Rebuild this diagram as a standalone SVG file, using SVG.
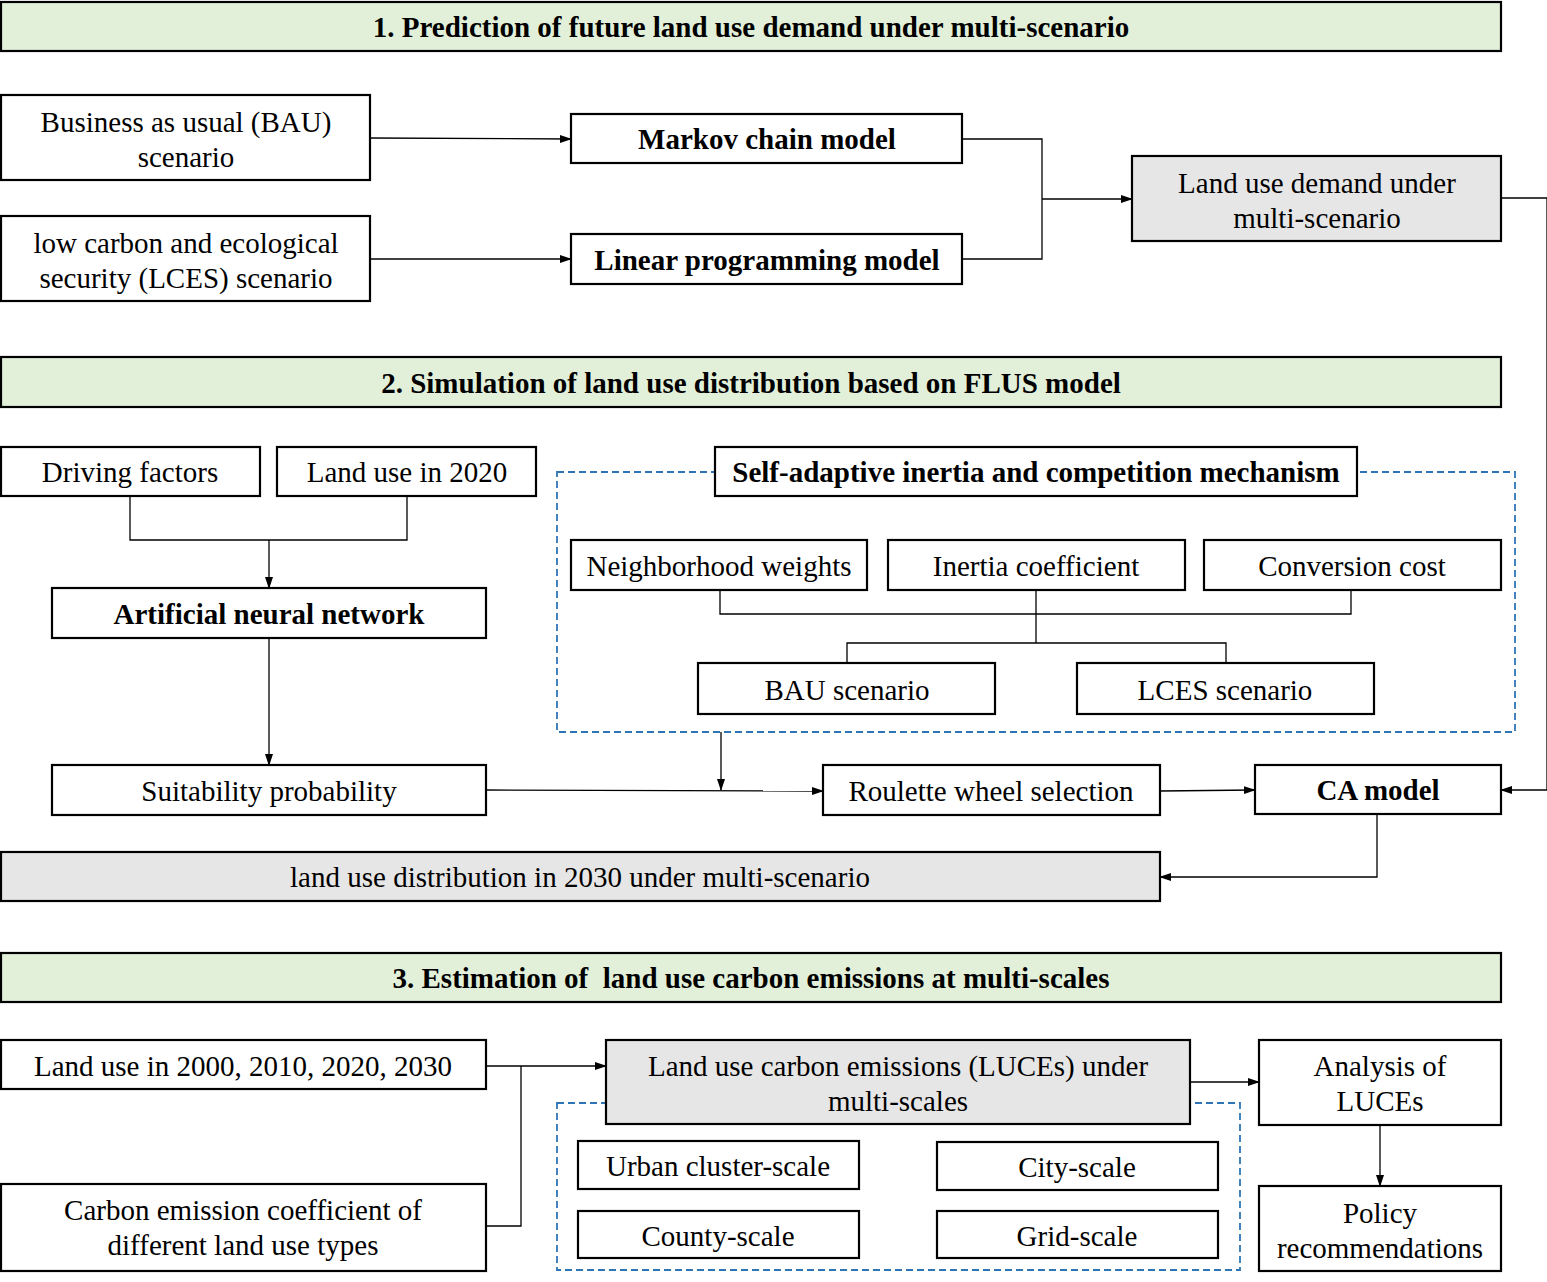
<svg xmlns="http://www.w3.org/2000/svg" width="1547" height="1282" viewBox="0 0 1547 1282">
<defs>
<marker id="arr" markerWidth="12" markerHeight="10" refX="11" refY="5" orient="auto" markerUnits="userSpaceOnUse">
<path d="M0,1 L12,5 L0,9 Z" fill="#000"/>
</marker>
<style>
.hdr{fill:#e2f0d9;stroke:#000;stroke-width:2.2}
.box{fill:#fff;stroke:#000;stroke-width:2.2}
.gray{fill:#e7e6e6;stroke:#000;stroke-width:2.2}
.dash{fill:none;stroke:#2e75b6;stroke-width:1.8;stroke-dasharray:7,4}
.t{font-family:'Liberation Serif','Times New Roman',serif;font-size:29px;fill:#000;text-anchor:middle}
.b{font-weight:bold}
.ln{fill:none;stroke:#000;stroke-width:1.3}
.la{fill:none;stroke:#000;stroke-width:1.3;marker-end:url(#arr)}
</style>
</defs>
<rect width="1547" height="1282" fill="#fff"/>

<!-- dashed groupings -->
<rect class="dash" x="557" y="472" width="958" height="260"/>
<rect class="dash" x="557" y="1103" width="683" height="167"/>

<!-- connectors -->
<g id="connectors">
<line class="la" x1="370" y1="138" x2="571" y2="139"/>
<line class="la" x1="370" y1="259" x2="571" y2="259"/>
<polyline class="ln" points="962,139 1042,139 1042,259 962,259"/>
<line class="la" x1="1042" y1="199" x2="1132" y2="199"/>
<polyline class="la" points="1501,198 1547,198 1547,790 1501,790"/>
<polyline class="ln" points="130,496 130,540 407,540 407,496"/>
<line class="la" x1="269" y1="540" x2="269" y2="588"/>
<line class="la" x1="269" y1="638" x2="269" y2="765"/>
<polyline class="ln" points="720,590 720,614 1351,614 1351,590"/>
<line class="ln" x1="1036" y1="590" x2="1036" y2="643"/>
<polyline class="ln" points="847,663 847,643 1226,643 1226,663"/>
<line class="la" x1="721" y1="732" x2="721" y2="790"/>
<line class="la" x1="486" y1="790" x2="823" y2="791"/>
<line class="la" x1="1160" y1="791" x2="1255" y2="790"/>
<polyline class="la" points="1377,814 1377,877 1160,877"/>
<line class="la" x1="486" y1="1066" x2="606" y2="1066"/>
<polyline class="ln" points="521,1066 521,1226 486,1226"/>
<line class="la" x1="1190" y1="1082" x2="1259" y2="1082"/>
<line class="la" x1="1380" y1="1125" x2="1380" y2="1186"/>
</g>

<!-- section headers -->
<g id="hdr1"><rect class="hdr" x="1" y="2" width="1500" height="49"/><text class="t b" x="751" y="37">1. Prediction of future land use demand under multi-scenario</text></g>
<g id="hdr2"><rect class="hdr" x="1" y="357" width="1500" height="50"/><text class="t b" x="751" y="393">2. Simulation of land use distribution based on FLUS model</text></g>
<g id="hdr3"><rect class="hdr" x="1" y="953" width="1500" height="49"/><text class="t b" x="751" y="988" xml:space="preserve">3. Estimation of  land use carbon emissions at multi-scales</text></g>

<!-- section 1 -->
<g id="bau"><rect class="box" x="1" y="95" width="369" height="85"/><text class="t" x="186" y="132">Business as usual (BAU)</text><text class="t" x="186" y="167">scenario</text></g>
<g id="lces"><rect class="box" x="1" y="216" width="369" height="85"/><text class="t" x="186" y="253">low carbon and ecological</text><text class="t" x="186" y="288">security (LCES) scenario</text></g>
<g id="markov"><rect class="box" x="571" y="114" width="391" height="49"/><text class="t b" x="767" y="149">Markov chain model</text></g>
<g id="linear"><rect class="box" x="571" y="234" width="391" height="50"/><text class="t b" x="767" y="270">Linear programming model</text></g>
<g id="demand"><rect class="gray" x="1132" y="156" width="369" height="85"/><text class="t" x="1317" y="193">Land use demand under</text><text class="t" x="1317" y="228">multi-scenario</text></g>

<!-- section 2 -->
<g id="driving"><rect class="box" x="1" y="447" width="259" height="49"/><text class="t" x="130" y="482">Driving factors</text></g>
<g id="lu2020"><rect class="box" x="277" y="447" width="259" height="49"/><text class="t" x="407" y="482">Land use in 2020</text></g>
<g id="ann"><rect class="box" x="52" y="588" width="434" height="50"/><text class="t b" x="269" y="624">Artificial neural network</text></g>
<g id="suit"><rect class="box" x="52" y="765" width="434" height="50"/><text class="t" x="269" y="801">Suitability probability</text></g>
<g id="selfadapt"><rect class="box" x="715" y="447" width="642" height="49"/><text class="t b" x="1036" y="482">Self-adaptive inertia and competition mechanism</text></g>
<g id="neigh"><rect class="box" x="571" y="540" width="296" height="50"/><text class="t" x="719" y="576">Neighborhood weights</text></g>
<g id="inertia"><rect class="box" x="888" y="540" width="297" height="50"/><text class="t" x="1036" y="576">Inertia coefficient</text></g>
<g id="conv"><rect class="box" x="1204" y="540" width="297" height="50"/><text class="t" x="1352" y="576">Conversion cost</text></g>
<g id="bauscen"><rect class="box" x="698" y="663" width="297" height="51"/><text class="t" x="847" y="700">BAU scenario</text></g>
<g id="lcesscen"><rect class="box" x="1077" y="663" width="297" height="51"/><text class="t" x="1225" y="700">LCES scenario</text></g>
<g id="roulette"><rect class="box" x="823" y="765" width="337" height="50"/><text class="t" x="991" y="801">Roulette wheel selection</text></g>
<g id="ca"><rect class="box" x="1255" y="765" width="246" height="49"/><text class="t b" x="1378" y="800">CA model</text></g>
<g id="dist"><rect class="gray" x="1" y="852" width="1159" height="49"/><text class="t" x="580" y="887">land use distribution in 2030 under multi-scenario</text></g>

<!-- section 3 -->
<g id="luyears"><rect class="box" x="1" y="1040" width="485" height="49"/><text class="t" x="243" y="1076">Land use in 2000, 2010, 2020, 2030</text></g>
<g id="coef"><rect class="box" x="1" y="1184" width="485" height="87"/><text class="t" x="243" y="1220">Carbon emission coefficient of</text><text class="t" x="243" y="1255">different land use types</text></g>
<g id="luces"><rect class="gray" x="606" y="1040" width="584" height="84"/><text class="t" x="898" y="1076">Land use carbon emissions (LUCEs) under</text><text class="t" x="898" y="1111">multi-scales</text></g>
<g id="urban"><rect class="box" x="578" y="1141" width="281" height="48"/><text class="t" x="718" y="1176">Urban cluster-scale</text></g>
<g id="city"><rect class="box" x="937" y="1142" width="281" height="48"/><text class="t" x="1077" y="1177">City-scale</text></g>
<g id="county"><rect class="box" x="578" y="1211" width="281" height="47"/><text class="t" x="718" y="1246">County-scale</text></g>
<g id="grid"><rect class="box" x="937" y="1211" width="281" height="47"/><text class="t" x="1077" y="1246">Grid-scale</text></g>
<g id="analysis"><rect class="box" x="1259" y="1040" width="242" height="85"/><text class="t" x="1380" y="1076">Analysis of</text><text class="t" x="1380" y="1111">LUCEs</text></g>
<g id="policy"><rect class="box" x="1259" y="1186" width="242" height="85"/><text class="t" x="1380" y="1223">Policy</text><text class="t" x="1380" y="1258">recommendations</text></g>
</svg>
